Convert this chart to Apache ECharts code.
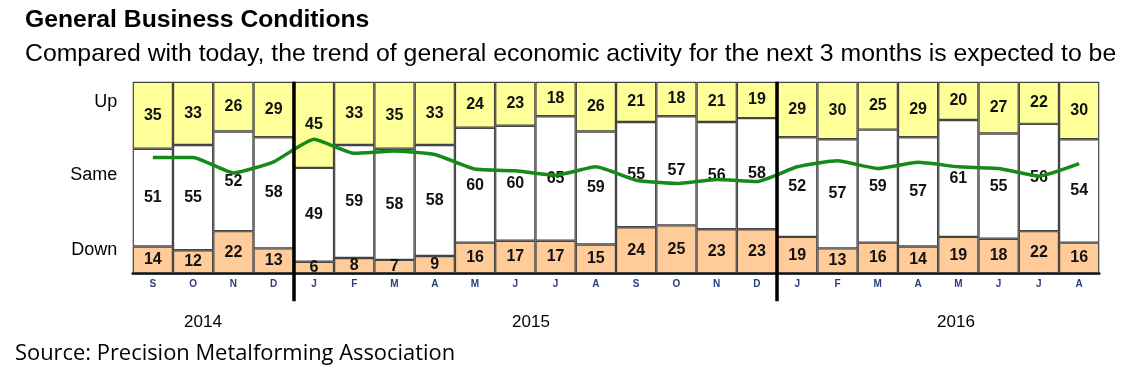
<!DOCTYPE html>
<html><head><meta charset="utf-8">
<script src="https://cdn.jsdelivr.net/npm/echarts@6/dist/echarts.min.js"></script>
<style>html,body{margin:0;padding:0;background:#fff}#c{width:1122px;height:386px}</style>
</head><body><div id="c"></div>
<script>
const months = ['S','O','N','D','J','F','M','A','M','J','J','A','S','O','N','D','J','F','M','A','M','J','J','A'];
const upValues = [35,33,26,29,45,33,35,33,24,23,18,26,21,18,21,19,29,30,25,29,20,27,22,30];
const sameValues = [51,55,52,58,49,59,58,58,60,60,65,59,55,57,56,58,52,57,59,57,61,55,56,54];
const downValues = [14,12,22,13,6,8,7,9,16,17,17,15,24,25,23,23,19,13,16,14,19,18,22,16];
const trendValues = [60.5,60.5,52.4,58.2,70,62.6,63.8,62,54.4,53.5,51.2,55.6,48.6,46.9,49,47.9,55.6,58.7,54.7,57.9,55.6,54.7,50.7,57.2];
const yearLabels = ['2014','2015','2016'];
const rowLabels = ['Up','Same','Down'];
const yearBreaks = [4,16];

const FONT = '"Liberation Sans", Arial, sans-serif';
const catKeys = months.map((m,i)=>m+'_'+i);
const chart = echarts.init(document.getElementById('c'), null, {renderer:'canvas'});
const barLabel = {show:true, position:'inside', color:'#111', fontFamily:FONT, fontWeight:'bold', fontSize:16};
const barStyle = (c)=>({color:c, borderColor:'#444', borderWidth:1.2});

chart.setOption({
  animation:false,
  backgroundColor:'#fff',
  grid:{left:132.7, right:22.7, top:81.7, bottom:112.7, containLabel:false},
  xAxis:[{
    type:'category', data:catKeys, boundaryGap:true,
    axisLine:{show:true, lineStyle:{color:'#000', width:2.5}},
    axisTick:{show:false},
    splitLine:{show:false},
    axisLabel:{interval:0, margin:6, formatter:(v)=>v.split('_')[0], color:'#2b3c80', fontFamily:FONT, fontWeight:'bold', fontSize:10}
  },{
    type:'value', min:0, max:months.length, position:'bottom',
    axisLine:{show:false, onZero:false},
    axisLabel:{show:false},
    axisTick:{show:true, customValues:yearBreaks, length:28, lineStyle:{color:'#000', width:3.5}},
    splitLine:{show:true, lineStyle:{color:'#000', width:3.5}},
    z:5
  }],
  yAxis:{type:'value', min:0, max:100, show:false, splitLine:{show:false}},
  series:[
    {name:'Down', type:'bar', stack:'t', data:downValues, barCategoryGap:'0%', itemStyle:barStyle('#ffcc99'), label:barLabel, z:2},
    {name:'Same', type:'bar', stack:'t', data:sameValues, barCategoryGap:'0%', itemStyle:barStyle('#ffffff'), label:barLabel, z:2},
    {name:'Up', type:'bar', stack:'t', data:upValues, barCategoryGap:'0%', itemStyle:barStyle('#ffff99'), label:barLabel, z:2},
    {name:'Trend', type:'line', data:trendValues, symbol:'none', smooth:0.15, lineStyle:{color:'#168a16', width:3.5}, z:3}
  ],
  graphic:[
    {type:'text', left:25, top:8, style:{text:'General Business Conditions', font:'bold 24.7px '+FONT, fill:'#000'}},
    {type:'text', left:25, top:42, style:{text:'Compared with today, the trend of general economic activity for the next 3 months is expected to be', font:'24.8px '+FONT, fill:'#000'}},
    {type:'text', x:117.3, y:102.3, style:{text:rowLabels[0], font:'18px '+FONT, fill:'#000', align:'right', verticalAlign:'middle'}},
    {type:'text', x:117.3, y:175, style:{text:rowLabels[1], font:'18px '+FONT, fill:'#000', align:'right', verticalAlign:'middle'}},
    {type:'text', x:117.3, y:250, style:{text:rowLabels[2], font:'18px '+FONT, fill:'#000', align:'right', verticalAlign:'middle'}},
    {type:'text', x:203, y:322, style:{text:yearLabels[0], font:'17px '+FONT, fill:'#000', align:'center', verticalAlign:'middle'}},
    {type:'text', x:531, y:322, style:{text:yearLabels[1], font:'17px '+FONT, fill:'#000', align:'center', verticalAlign:'middle'}},
    {type:'text', x:956, y:322, style:{text:yearLabels[2], font:'17px '+FONT, fill:'#000', align:'center', verticalAlign:'middle'}},
    {type:'text', left:15, y:354, style:{text:'Source: Precision Metalforming Association', font:'21.9px "Open Sans", sans-serif', fill:'#000', verticalAlign:'middle'}}
  ]
});
</script></body></html>
